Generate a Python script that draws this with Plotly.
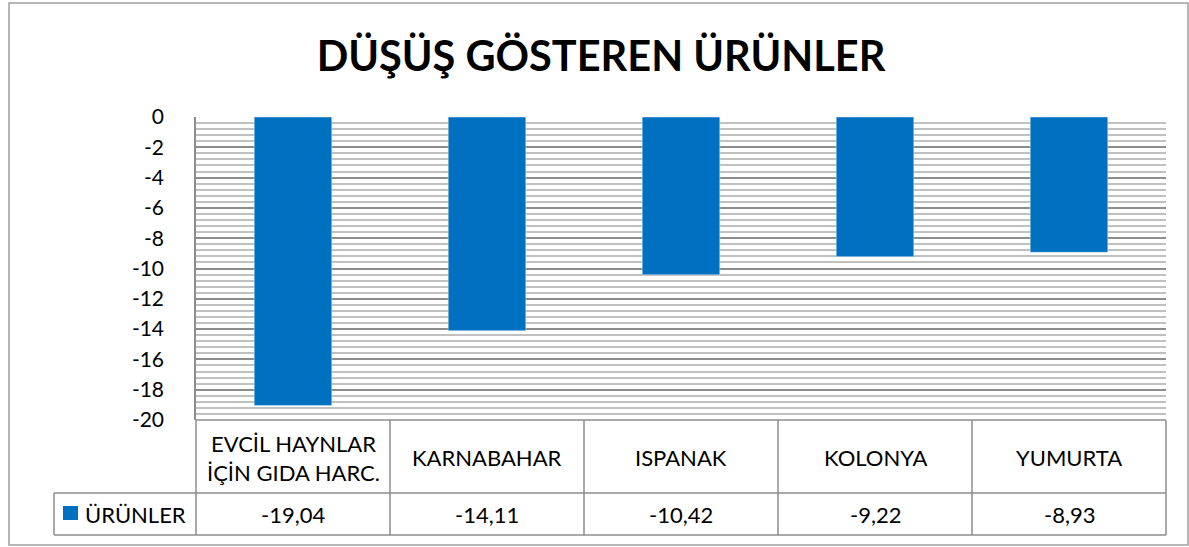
import plotly.graph_objects as go

categories = ["EVCİL HAYNLAR<br>İÇİN GIDA HARC.", "KARNABAHAR", "ISPANAK", "KOLONYA", "YUMURTA"]
values = [-19.04, -14.11, -10.42, -9.22, -8.93]
series_name = "ÜRÜNLER"
y_ticks = list(range(0, -21, -2))

W, H = 1189, 547
L, R, T, B = 196, 1166, 117, 420  # plot area in pixels
BAR_COLOR = "#0070C0"
GRID_MAJOR = "#8C8C8C"
GRID_MINOR = "#C0C0C0"
BORDER = "#8C8C8C"
FONT = "Lato, Carlito, Calibri, 'Noto Sans', sans-serif"


def px(x):
    return (x - L) / (R - L)


def py(y):
    return (B - y) / (B - T)


fig = go.Figure()
fig.add_trace(go.Bar(x=list(range(len(categories))), y=values, marker_color=BAR_COLOR,
                     name=series_name, showlegend=False))

shapes = []


def line(x0, y0, x1, y1, color=BORDER, w=1.5):
    shapes.append(dict(type="line", xref="paper", yref="paper", x0=px(x0), y0=py(y0),
                       x1=px(x1), y1=py(y1), line=dict(color=color, width=w)))


# outer chart border
shapes.append(dict(type="rect", xref="paper", yref="paper", x0=px(9), y0=py(545),
                   x1=px(1188), y1=py(3), line=dict(color="#A0A0A0", width=1.5)))

# data table
row1_top, row1_bot, row2_bot = 420, 493, 535
leg_left = 54
col_w = (R - L) / len(categories)
line(L, row1_top, R, row1_top)
line(leg_left, row1_bot, R, row1_bot)
line(leg_left, row2_bot, R, row2_bot)
line(leg_left, row1_bot, leg_left, row2_bot)
for i in range(len(categories) + 1):
    xx = L + i * col_w
    line(xx, row1_top, xx, row2_bot)

# legend key square
shapes.append(dict(type="rect", xref="paper", yref="paper", x0=px(63), y0=py(520),
                   x1=px(78), y1=py(506), line=dict(width=0), fillcolor=BAR_COLOR))

TABLE_SIZE = 22
annotations = []
for i, (c, v) in enumerate(zip(categories, values)):
    annotations.append(dict(x=i, xref="x", y=py((row1_top + row1_bot) / 2 + 1), yref="paper",
                            text=c, showarrow=False, xanchor="center", yanchor="middle",
                            font=dict(family=FONT, size=TABLE_SIZE, color="#000")))
    annotations.append(dict(x=i, xref="x", y=py((row1_bot + row2_bot) / 2), yref="paper",
                            text=f"{v:.2f}".replace(".", ","), showarrow=False,
                            xanchor="center", yanchor="middle",
                            font=dict(family=FONT, size=TABLE_SIZE, color="#000")))
annotations.append(dict(x=px(83), xref="paper", y=py((row1_bot + row2_bot) / 2), yref="paper",
                        text=series_name, showarrow=False, xanchor="left", yanchor="middle",
                        font=dict(family=FONT, size=TABLE_SIZE, color="#000")))

fig.update_layout(
    width=W, height=H,
    margin=dict(l=L, r=W - R, t=T, b=H - B),
    paper_bgcolor="white", plot_bgcolor="white",
    bargap=0.6,
    title=dict(text="<b>DÜŞÜŞ GÖSTEREN ÜRÜNLER</b>", x=601 / W, xref="container", xanchor="center",
               y=1 - 56 / H, yref="container", yanchor="middle",
               font=dict(family=FONT, size=41.5, color="#000")),
    xaxis=dict(range=[-0.5, len(categories) - 0.5], showticklabels=False, showgrid=False,
               zeroline=False, showline=False, ticks=""),
    yaxis=dict(range=[-20, 0], tickvals=y_ticks, ticktext=[str(t) for t in y_ticks],
               showgrid=True, gridcolor=GRID_MAJOR, gridwidth=1.5,
               minor=dict(dtick=0.4, tick0=0, showgrid=True, gridcolor=GRID_MINOR, gridwidth=1.5),
               zeroline=False, showline=True, linecolor=BORDER, linewidth=1.5,
               ticks="", ticklabelstandoff=26,
               tickfont=dict(family=FONT, size=21, color="#000")),
    shapes=shapes, annotations=annotations,
)

fig.write_html("out.html", config={"displayModeBar": False},
               post_script="document.body.style.margin='0';")
